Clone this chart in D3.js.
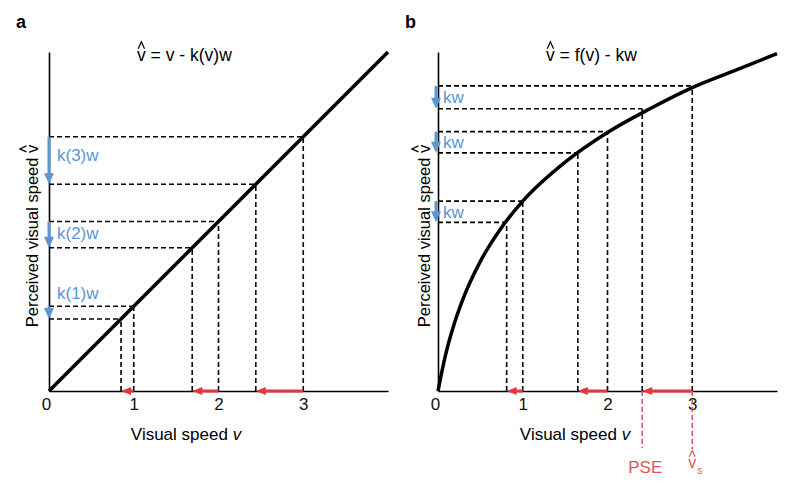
<!DOCTYPE html>
<html><head><meta charset="utf-8">
<script src="https://cdn.jsdelivr.net/npm/d3@7"></script>
<style>body{margin:0;background:#fff}svg{display:block;font-family:"Liberation Sans",Arial,sans-serif}</style>
</head><body>
<svg id="c" width="800" height="487"></svg>
<script>
// ---- data ----
const tickValues = [0, 1, 2, 3];
const trueSpeeds = [1, 2, 3];
// panel a: identity line, perceived after adaptation
const lineA_v = [0, 4];
const lineA_p = [0, 4];
const perceivedA = [0.85, 1.69, 2.44];
const labelsA = ["k(1)w", "k(2)w", "k(3)w"];
// panel b: compressive f(v)
const curveB_v = [0, 0.05, 0.1, 0.2, 0.3, 0.5, 0.75, 1, 1.5, 2, 2.5, 3, 3.5, 4];
const curveB_f = [0, 0.25, 0.47, 0.82, 1.1, 1.53, 1.93, 2.24, 2.7, 3.05, 3.33, 3.58, 3.78, 3.98];
const fTrueB = [2.24, 3.06, 3.6];
const fAdaptB = [1.99, 2.81, 3.33];
const matchB = [0.81, 1.65, 2.41];
const labelsB = ["kw", "kw", "kw"];
const pseValue = 2.41, vsValue = 3;

const blue = "#5b96d0", red = "#e3373d", red2 = "#e0555c";
const svg = d3.select("#c");

function arrow(g, x1, y1, x2, y2, color, w, hl, hw) {
  const dx = x2 - x1, dy = y2 - y1, L = Math.hypot(dx, dy), ux = dx / L, uy = dy / L;
  const bx = x2 - ux * hl, by = y2 - uy * hl;
  g.append("line").attr("x1", x1).attr("y1", y1).attr("x2", bx + ux).attr("y2", by + uy)
    .attr("stroke", color).attr("stroke-width", w);
  g.append("path").attr("d", `M${x2},${y2}L${bx - uy * hw / 2},${by + ux * hw / 2}L${bx + uy * hw / 2},${by - ux * hw / 2}Z`)
    .attr("fill", color);
}
function dashed(g, x1, y1, x2, y2, color) {
  g.append("line").attr("x1", x1).attr("y1", y1).attr("x2", x2).attr("y2", y2)
    .attr("stroke", color || "#000").attr("stroke-width", 1.6).attr("stroke-dasharray", "5,3");
}
// draw a circumflex (hat) over character idx of a text element, in the text's own parent frame
function hatOver(textSel, idx, baseline, size, color) {
  const ext = textSel.node().getExtentOfChar(idx);
  const cx = ext.x + ext.width / 2, w = size * 0.36;
  const yb = baseline - size * 0.7, yt = baseline - size * 1.1;
  d3.select(textSel.node().parentNode).append("path")
    .attr("d", `M${cx - w / 2},${yb}L${cx},${yt}L${cx + w / 2},${yb}`)
    .attr("fill", "none").attr("stroke", color || "#000").attr("stroke-width", 1.2);
}

function panel(opts) {
  const g = svg.append("g");
  const x = d3.scaleLinear().domain([0, 4]).range(opts.xr);
  const y = d3.scaleLinear().domain([0, 4]).range([391, 52]);
  const ax = g.append("g").attr("transform", `translate(0,${y(0)})`)
    .call(d3.axisBottom(x).tickValues(tickValues).tickSize(0).tickPadding(7).tickFormat(d3.format("d")));
  ax.select(".domain").attr("stroke-width", 1.6);
  ax.selectAll("text").attr("font-size", 17).attr("fill", "#111").attr("font-family", "Liberation Sans, Arial, sans-serif");
  ax.selectAll(".tick").filter(d => d === 0).select("text").attr("dx", -3);
  const ay = g.append("g").attr("transform", `translate(${x(0)},0)`)
    .call(d3.axisLeft(y).tickValues([]).tickSizeOuter(0));
  ay.select(".domain").attr("stroke-width", 1.6);
  return { g, x, y };
}
function titles(g, letter, lx, title, tx, xlabelX, ylabelX) {
  g.append("text").attr("x", lx).attr("y", 28).attr("font-size", 18).attr("font-weight", "bold").text(letter);
  const t = g.append("text").attr("x", tx).attr("y", 61).attr("font-size", 17.5).text(title);
  hatOver(t, 0, 61, 17.5);
  g.append("text").attr("x", xlabelX).attr("y", 440).attr("font-size", 17).attr("text-anchor", "middle")
    .html('Visual speed <tspan font-style="italic">v</tspan>');
  const yl = g.append("g").attr("transform", `translate(${ylabelX},236) rotate(-90)`);
  const yt = yl.append("text").attr("x", 0).attr("y", 0).attr("font-size", 16.5).attr("text-anchor", "middle")
    .text("Perceived visual speed v");
  hatOver(yt, yt.text().length - 1, 0, 16.5);
}

// ---------- Panel a ----------
{
  const { g, x, y } = panel({ xr: [49, 388] });
  trueSpeeds.forEach((v, i) => {
    const p = perceivedA[i];
    dashed(g, x(0), y(v), x(v), y(v));
    dashed(g, x(v), y(0), x(v), y(v));
    dashed(g, x(0), y(p), x(p), y(p));
    dashed(g, x(p), y(0), x(p), y(p));
  });
  g.append("path").datum(lineA_v.map((v, i) => [v, lineA_p[i]]))
    .attr("d", d3.line().x(d => x(d[0])).y(d => y(d[1])))
    .attr("fill", "none").attr("stroke", "#000").attr("stroke-width", 3.5);
  const labelDy = [-13, 12, 18];
  trueSpeeds.forEach((v, i) => {
    arrow(g, x(0), y(v), x(0), y(perceivedA[i]), blue, 3, 11, 10);
    arrow(g, x(v), y(0), x(perceivedA[i]), y(0), red, 3, 10, 8);
    g.append("text").attr("x", x(0) + 8).attr("y", y(v) + labelDy[i]).attr("dy", "0.35em")
      .attr("font-size", 17).attr("fill", blue).text(labelsA[i]);
  });
  titles(g, "a", 16, "v = v - k(v)w", 137, 186, 38);
}

// ---------- Panel b ----------
{
  const { g, x, y } = panel({ xr: [438, 777] });
  trueSpeeds.forEach((v, i) => {
    dashed(g, x(0), y(fTrueB[i]), x(v), y(fTrueB[i]));
    dashed(g, x(v), y(0), x(v), y(fTrueB[i]));
    dashed(g, x(0), y(fAdaptB[i]), x(matchB[i]), y(fAdaptB[i]));
    dashed(g, x(matchB[i]), y(0), x(matchB[i]), y(fAdaptB[i]));
  });
  g.append("path").datum(curveB_v.map((v, i) => [v, curveB_f[i]]))
    .attr("d", d3.line().curve(d3.curveMonotoneX).x(d => x(d[0])).y(d => y(d[1])))
    .attr("fill", "none").attr("stroke", "#000").attr("stroke-width", 3.5);
  trueSpeeds.forEach((v, i) => {
    arrow(g, x(0) - 2, y(fTrueB[i]), x(0) - 2, y(fAdaptB[i]), blue, 3, 11, 10);
    arrow(g, x(v), y(0), x(matchB[i]), y(0), red, 3, 10, 8);
    g.append("text").attr("x", x(0) + 5).attr("y", (y(fTrueB[i]) + y(fAdaptB[i])) / 2).attr("dy", "0.35em")
      .attr("font-size", 17).attr("fill", blue).text(labelsB[i]);
  });
  // PSE and v_s markers below axis
  dashed(g, x(pseValue), y(0), x(pseValue), 448, red2);
  dashed(g, x(vsValue), y(0), x(vsValue), 449, red2);
  g.append("text").attr("x", x(pseValue) + 3).attr("y", 473).attr("font-size", 17).attr("text-anchor", "middle")
    .attr("fill", red2).text("PSE");
  const vs = g.append("text").attr("x", x(vsValue)).attr("y", 468).attr("font-size", 16).attr("text-anchor", "middle")
    .attr("fill", red2).text("v");
  hatOver(vs, 0, 468, 16, red2);
  g.append("text").attr("x", x(vsValue) + 5).attr("y", 474).attr("font-size", 10)
    .attr("fill", red2).text("s");
  titles(g, "b", 405, "v = f(v) - kw", 546, 575, 430);
}
</script>
</body></html>
